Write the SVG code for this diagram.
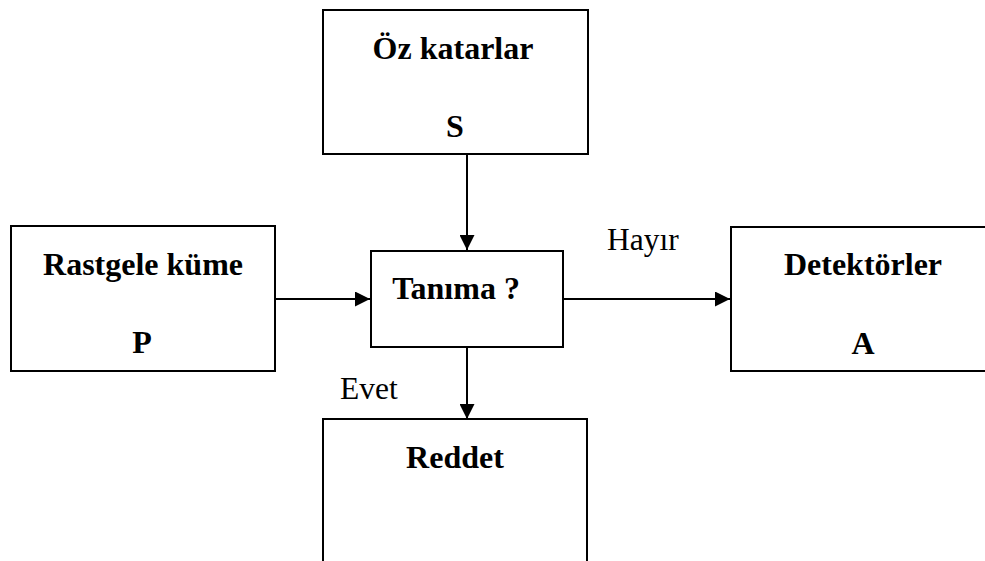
<svg xmlns="http://www.w3.org/2000/svg" width="985" height="561" viewBox="0 0 985 561">
  <style>
    .box { fill: #ffffff; stroke: #000000; stroke-width: 2; }
    .title { font-family: "Liberation Serif", "Times New Roman", serif; font-size: 32px; font-weight: bold; fill: #000000; text-anchor: middle; }
    .label { font-family: "Liberation Serif", "Times New Roman", serif; font-size: 31.5px; fill: #000000; }
    .edge { stroke: #000000; stroke-width: 2; fill: none; marker-end: url(#arrow); }
  </style>
  <defs>
    <marker id="arrow" viewBox="0 0 15 15" refX="15" refY="7.5" markerWidth="15" markerHeight="15" markerUnits="userSpaceOnUse" orient="auto">
      <path d="M0,0 L15,7.5 L0,15 Z" fill="#000000"/>
    </marker>
  </defs>
  <rect width="985" height="561" fill="#ffffff"/>

  <g id="connectors">
    <line class="edge" x1="467" y1="154" x2="467" y2="250"/>
    <line class="edge" x1="275" y1="299" x2="370" y2="299"/>
    <line class="edge" x1="563" y1="299" x2="730" y2="299"/>
    <line class="edge" x1="467" y1="347" x2="467" y2="419"/>
    <text class="label" x="607" y="250">Hayır</text>
    <text class="label" x="340" y="399">Evet</text>
  </g>

  <g id="oz-katarlar">
    <rect class="box" x="323" y="10" width="265" height="144"/>
    <text class="title" x="453" y="59">Öz katarlar</text>
    <text class="title" x="455" y="137">S</text>
  </g>

  <g id="rastgele-kume">
    <rect class="box" x="11" y="226" width="264" height="145"/>
    <text class="title" x="143" y="275">Rastgele küme</text>
    <text class="title" x="142" y="353">P</text>
  </g>

  <g id="tanima">
    <rect class="box" x="371" y="251" width="192" height="96"/>
    <text class="title" x="456" y="299">Tanıma ?</text>
  </g>

  <g id="detektorler">
    <rect class="box" x="731" y="227" width="270" height="144"/>
    <text class="title" x="863" y="275">Detektörler</text>
    <text class="title" x="863" y="354">A</text>
  </g>

  <g id="reddet">
    <rect class="box" x="323" y="419" width="264" height="160"/>
    <text class="title" x="455" y="468">Reddet</text>
  </g>
</svg>
